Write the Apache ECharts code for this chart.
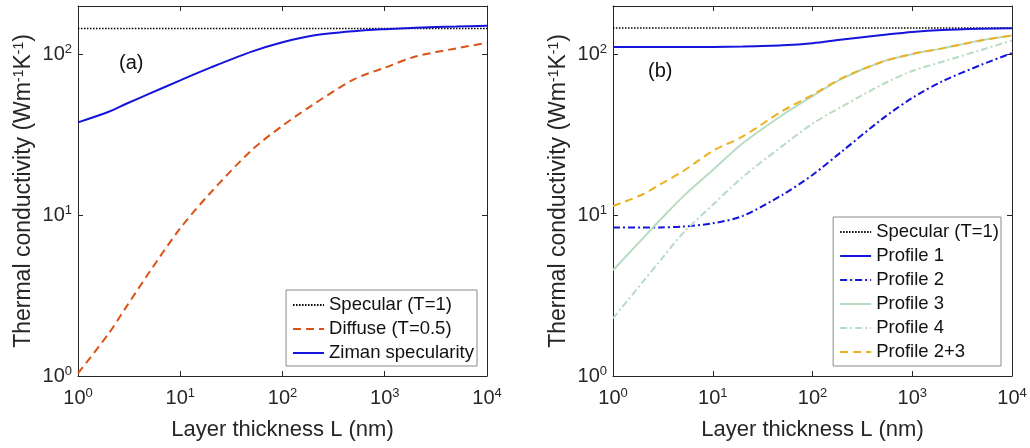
<!DOCTYPE html>
<html>
<head>
<meta charset="utf-8">
<script src="https://cdn.jsdelivr.net/npm/echarts@6/dist/echarts.min.js"></script>
<style>
  html, body { margin: 0; padding: 0; background: #fff; }
  #chart { width: 1030px; height: 448px; }
</style>
</head>
<body>
<div id="chart"></div>
<script>
// layer thickness L (nm), shared by every curve
var thickness = [1, 2, 3, 5, 10, 20, 50, 100, 200, 500, 1000, 2000, 5000, 10000];

// panel (a)
var specularA = [145, 145, 145, 145, 145, 145, 145, 145, 145, 145, 145, 145, 145, 145];
var diffuse   = [1.04, 1.84, 2.72, 4.43, 8.3, 13.9, 25.4, 36, 48.8, 70, 82.6, 97, 109, 118];
var ziman     = [37.8, 44, 49.5, 57, 69, 83, 104, 119, 131, 139.5, 143.5, 146.5, 149, 151];

// panel (b)
var specularB = [146, 146, 146, 146, 146, 146, 146, 146, 146, 146, 146, 146, 146, 146];
var profile1  = [111, 111, 111, 111, 111.3, 112, 114, 117.5, 124, 132, 138, 142, 144.5, 145.5];
var profile2  = [8.4, 8.38, 8.4, 8.5, 8.9, 9.9, 13.4, 17.8, 25.1, 39.7, 53.6, 68, 86.5, 102];
var profile3  = [4.55, 7.2, 9.4, 13.0, 19.1, 28, 42, 55, 71, 90, 100.5, 109, 122.5, 131];
var profile4  = [2.28, 3.86, 5.25, 7.7, 11.6, 17.3, 27, 37.1, 47.6, 65, 78.9, 90, 107, 122];
var profile23 = [11.4, 13.5, 15.6, 18.7, 25.1, 30.9, 44.5, 56, 71.5, 90, 100.5, 109, 122.5, 131];

var namesA = ['Specular (T=1)', 'Diffuse (T=0.5)', 'Ziman specularity'];
var namesB = ['Specular (T=1)', 'Profile 1', 'Profile 2', 'Profile 3', 'Profile 4', 'Profile 2+3'];

var FONT = 'Liberation Sans, Arial, sans-serif';
var AXC = '#262626';
var BLUE = '#1414dc', ORANGE = '#d95319', GREEN = '#b8dcc2', GOLD = '#edb120';

function pairs(ys) {
    return thickness.map(function (x, i) { return [x, ys[i]]; });
}

function powLabel(v) {
    var e = Math.log10(v);
    if (Math.abs(e - Math.round(e)) > 1e-6) return '';
    return '10{sup|' + Math.round(e) + '}';
}

var richSup = {
    sup: { fontSize: 13, verticalAlign: 'top', padding: [0, 0, 9, 0], fontFamily: FONT, color: AXC }
};

function xAxes(gi) {
    return [{
        type: 'log', gridIndex: gi, min: 1, max: 10000, logBase: 10,
        name: 'Layer thickness L (nm)', nameLocation: 'middle', nameGap: 43,
        nameTextStyle: { fontSize: 22, fontFamily: FONT, color: AXC },
        axisLine: { lineStyle: { color: AXC, width: 1 } },
        axisTick: { inside: true, length: 5, lineStyle: { color: AXC } },
        minorTick: { show: false },
        splitLine: { show: false },
        axisLabel: { fontSize: 20, fontFamily: FONT, color: AXC, margin: 11, formatter: powLabel, rich: richSup }
    }, {
        type: 'log', gridIndex: gi, min: 1, max: 10000, position: 'top',
        axisLine: { lineStyle: { color: AXC, width: 1 } },
        axisTick: { inside: true, length: 5, lineStyle: { color: AXC } },
        splitLine: { show: false },
        axisLabel: { show: false }
    }];
}

function yAxes(gi) {
    return [{
        type: 'log', gridIndex: gi, min: 1, max: 200, logBase: 10,
        name: 'Thermal conductivity (Wm{sup|-1}K{sup|-1})', nameLocation: 'middle', nameGap: 42,
        nameRotate: 90,
        nameTextStyle: { fontSize: 23, fontFamily: FONT, color: AXC,
            rich: { sup: { fontSize: 14, verticalAlign: 'top', padding: [0, 0, 10, 0], fontFamily: FONT, color: AXC } } },
        axisLine: { lineStyle: { color: AXC, width: 1 } },
        axisTick: { inside: true, length: 5, lineStyle: { color: AXC } },
        splitLine: { show: false },
        axisLabel: { fontSize: 20, fontFamily: FONT, color: AXC, margin: 6, formatter: powLabel, rich: richSup }
    }, {
        type: 'log', gridIndex: gi, min: 1, max: 200, position: 'right',
        axisLine: { lineStyle: { color: AXC, width: 1 } },
        axisTick: { inside: true, length: 5, lineStyle: { color: AXC } },
        splitLine: { show: false },
        axisLabel: { show: false }
    }];
}

function line(name, ys, xi, yi, color, type, width) {
    return {
        name: name, type: 'line', xAxisIndex: xi, yAxisIndex: yi,
        data: pairs(ys), smooth: 0.3, symbol: 'none',
        lineStyle: { color: color, type: type, width: width },
        itemStyle: { color: color }
    };
}

var legendBase = {
    orient: 'vertical', itemWidth: 31, itemHeight: 10, itemGap: 4,
    backgroundColor: '#fff', borderColor: '#8a8a8a', borderWidth: 1,
    itemStyle: { opacity: 0 },
    textStyle: { fontSize: 18.5, lineHeight: 20, fontFamily: FONT, color: '#111' }
};

var chart = echarts.init(document.getElementById('chart'));
chart.setOption({
    animation: false,
    backgroundColor: '#fff',
    grid: [
        { left: 78, right: 543, top: 6, bottom: 72 },
        { left: 613, right: 18, top: 6, bottom: 72 }
    ],
    xAxis: xAxes(0).concat(xAxes(1)),
    yAxis: yAxes(0).concat(yAxes(1)),
    legend: [
        echarts.util.merge({ data: namesA.slice(), right: 553, top: 290, padding: [5, 3, 3, 6] }, legendBase),
        echarts.util.merge({ data: namesB.slice(), right: 29, top: 217, padding: [5, 2, 4, 6] }, legendBase)
    ],
    graphic: [
        { type: 'text', left: 119, top: 53, style: { text: '(a)', fontSize: 20, fontFamily: FONT, fill: '#111' } },
        { type: 'text', left: 648, top: 61, style: { text: '(b)', fontSize: 20, fontFamily: FONT, fill: '#111' } }
    ],
    series: [
        line(namesA[0], specularA, 0, 0, '#000', [1.5, 1.5], 1.5),
        line(namesA[1], diffuse, 0, 0, ORANGE, [8, 5], 2),
        line(namesA[2], ziman, 0, 0, BLUE, 'solid', 2),
        line(namesB[0], specularB, 2, 2, '#000', [1.5, 1.5], 1.5),
        line(namesB[1], profile1, 2, 2, BLUE, 'solid', 2),
        line(namesB[2], profile2, 2, 2, BLUE, [7, 3, 2, 3], 2),
        line(namesB[3], profile3, 2, 2, GREEN, 'solid', 2),
        line(namesB[4], profile4, 2, 2, GREEN, [7, 3, 2, 3], 2),
        line(namesB[5], profile23, 2, 2, GOLD, [8, 5], 2)
    ]
});
</script>
</body>
</html>
